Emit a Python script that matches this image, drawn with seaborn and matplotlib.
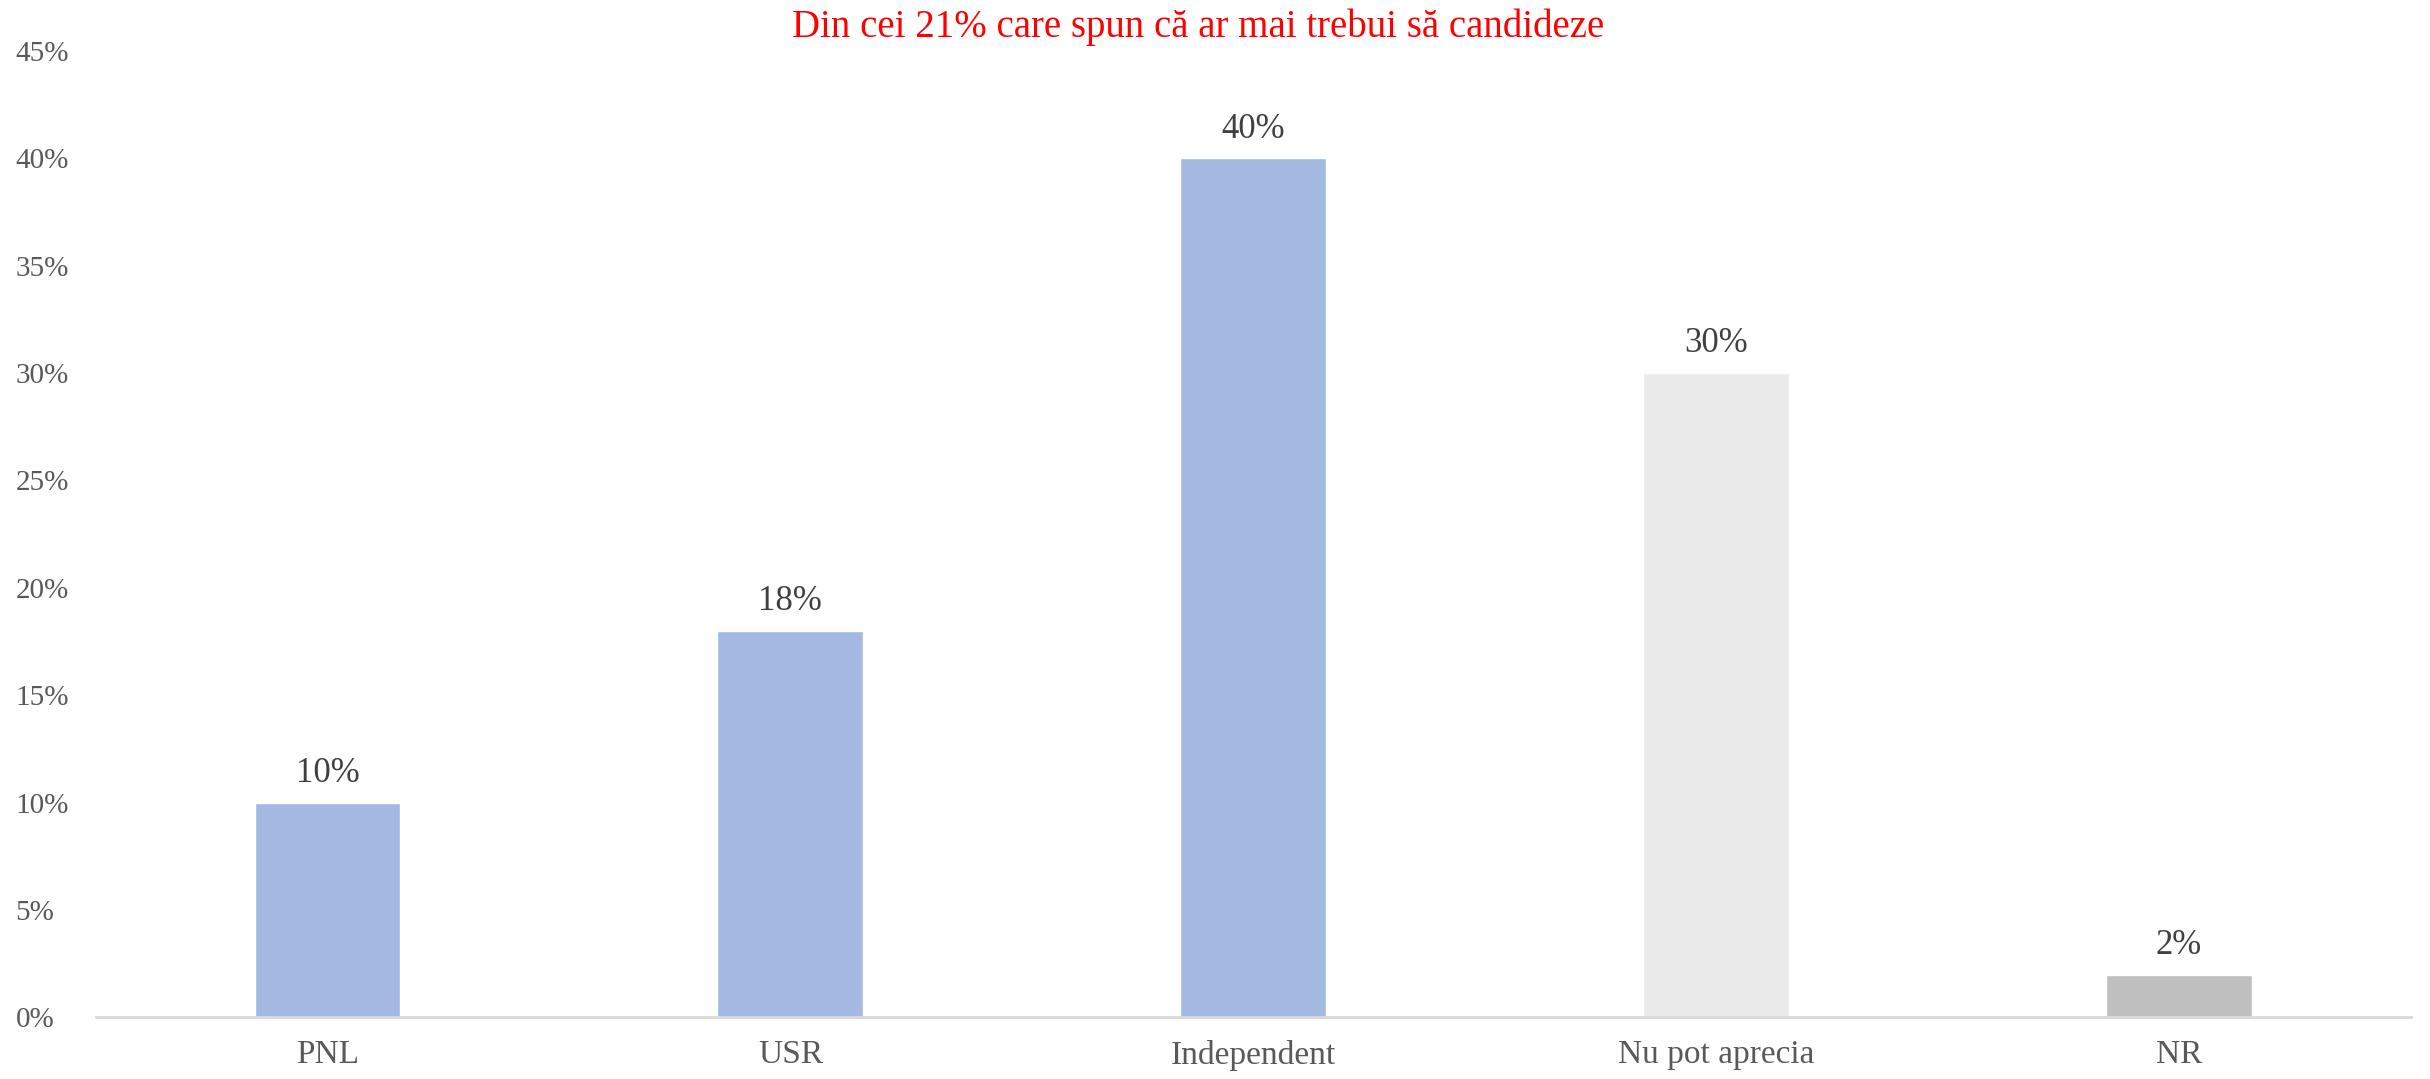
import pandas as pd
import seaborn as sns
import matplotlib.pyplot as plt
from matplotlib.ticker import PercentFormatter

# date
categorii = ['PNL', 'USR', 'Independent', 'Nu pot aprecia', 'NR']
valori = [10, 18, 40, 30, 2]
culori = ['#A4B9E1', '#A4B9E1', '#A4B9E1', '#EAEAEA', '#BFBFBF']
titlu = 'Din cei 21% care spun că ar mai trebui să candideze'

df = pd.DataFrame({'cat': categorii, 'val': valori})

sns.set_style('white')
plt.rcParams['font.family'] = ['Liberation Serif', 'DejaVu Serif']

fig, ax = plt.subplots(figsize=(24.3, 10.79), dpi=100)
fig.subplots_adjust(left=0.0395, right=0.992, top=0.953, bottom=0.057)

sns.barplot(data=df, x='cat', y='val', hue='cat', palette=culori, legend=False,
            width=0.315, ax=ax, saturation=1)

for i, v in enumerate(valori):
    ax.annotate(f'{v}%', (i, v), xytext=(0, 9), textcoords='offset points',
                ha='center', va='bottom', fontsize=25, color='#404040')

ax.set_ylim(0, 45)
ax.set_yticks(range(0, 50, 5))
ax.yaxis.set_major_formatter(PercentFormatter(decimals=0))
ax.set_xlim(-0.5, len(categorii) - 0.5)
ax.tick_params(axis='y', length=0, labelsize=21, labelcolor='#595959', pad=58)
ax.tick_params(axis='x', length=0, labelsize=24, labelcolor='#595959', pad=16)
for lbl in ax.get_yticklabels():
    lbl.set_horizontalalignment('left')
ax.set_xlabel('')
ax.set_ylabel('')

for s in ['top', 'right', 'left']:
    ax.spines[s].set_visible(False)
ax.spines['bottom'].set_color('#D9D9D9')
ax.spines['bottom'].set_linewidth(2)

fig.suptitle(titlu, color='red', fontsize=28, y=0.992, va='top', x=0.493)

fig.savefig('out.png', dpi=100)
